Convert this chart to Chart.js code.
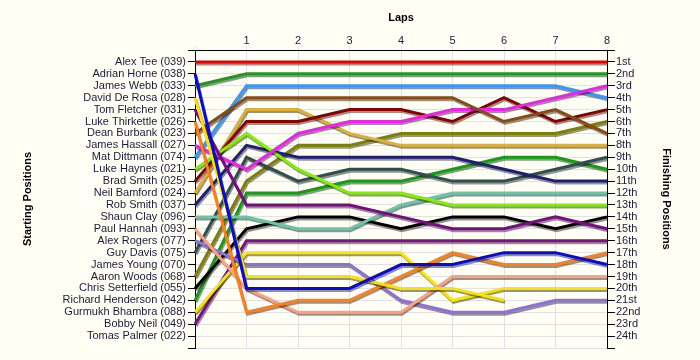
<!DOCTYPE html>
<html>
<head>
<meta charset="utf-8">
<script src="https://cdn.jsdelivr.net/npm/chart.js@4/dist/chart.umd.min.js"></script>
<style>
  html, body { margin: 0; padding: 0; background: #FFFFF5; }
  #wrap { width: 700px; height: 360px; position: relative; }
</style>
</head>
<body>
<div id="wrap"><canvas id="c"></canvas></div>
<script>
// ---- data ----
const laps = [0, 1, 2, 3, 4, 5, 6, 7, 8];
const startLabels = ['Alex Tee (039)','Adrian Horne (038)','James Webb (033)','David De Rosa (028)','Tom Fletcher (031)','Luke Thirkettle (026)','Dean Burbank (023)','James Hassall (027)','Mat Dittmann (074)','Luke Haynes (021)','Brad Smith (025)','Neil Bamford (024)','Rob Smith (037)','Shaun Clay (096)','Paul Hannah (093)','Alex Rogers (077)','Guy Davis (075)','James Young (070)','Aaron Woods (068)','Chris Setterfield (055)','Richard Henderson (042)','Gurmukh Bhambra (088)','Bobby Neil (049)','Tomas Palmer (022)'];
const finishLabels = ['1st','2nd','3rd','4th','5th','6th','7th','8th','9th','10th','11th','12th','13th','14th','15th','16th','17th','18th','19th','20th','21st','22nd','23rd','24th'];

// position at each lap (lap 0 = grid position)
const alexTee          = [1, 1, 1, 1, 1, 1, 1, 1, 1];
const adrianHorne      = [2, 20, 20, 20, 18, 18, 17, 17, 18];
const jamesWebb        = [3, 2, 2, 2, 2, 2, 2, 2, 2];
const davidDeRosa      = [4, 19, 19, 19, 20, 20, 21, null, null];
const tomFletcher      = [5, 13, 13, 13, 14, 15, 15, 14, 15];
const lukeThirkettle   = [6, 22, 21, 21, 19, 17, 18, 18, 17];
const deanBurbank      = [7, 4, 4, 4, 4, 4, 6, 5, 7];
const jamesHassall     = [8, 10, 7, 6, 6, 5, 5, 4, 3];
const matDittmann      = [9, 3, 3, 3, 3, 3, 3, 3, 4];
const lukeHaynes       = [10, 7, 10, 12, 12, 13, 13, 13, 13];
const bradSmith        = [11, 6, 6, 5, 5, 6, 4, 6, 5];
const neilBamford      = [12, 5, 5, 7, 8, 8, 8, 8, 8];
const robSmith         = [13, 8, 9, 9, 9, 9, 10, 11, 11];
const shaunClay        = [14, 14, 15, 15, 13, 12, 12, 12, 12];
const paulHannah       = [15, 20, 22, 22, 22, 19, 19, 19, 19];
const alexRogers       = [16, 18, 18, 18, 21, 22, 22, 21, 21];
const guyDavis         = [17, 9, 11, 10, 10, 11, 11, 10, 9];
const aaronWoods       = [19, 11, 8, 8, 7, 7, 7, 7, 6];
const chrisSetterfield = [20, 15, 14, 14, 15, 14, 14, 15, 14];
const richardHenderson = [21, 12, 12, 11, 11, 10, 9, 9, 10];
const gurmukhBhambra   = [22, 17, 17, 17, 17, 21, 20, 20, 20];
const bobbyNeil        = [23, 16, 16, 16, 16, 16, 16, 16, 16];

const series = [
  { name: startLabels[0],  data: alexTee,          color: '#E80000' },
  { name: startLabels[1],  data: adrianHorne,      color: '#0A0AD8' },
  { name: startLabels[2],  data: jamesWebb,        color: '#1E9A1E' },
  { name: startLabels[3],  data: davidDeRosa,      color: '#F8E400' },
  { name: startLabels[4],  data: tomFletcher,      color: '#7A0A86' },
  { name: startLabels[5],  data: lukeThirkettle,   color: '#FF8018' },
  { name: startLabels[6],  data: deanBurbank,      color: '#8A4A10' },
  { name: startLabels[7],  data: jamesHassall,     color: '#F020F0' },
  { name: startLabels[8],  data: matDittmann,      color: '#3399FF' },
  { name: startLabels[9],  data: lukeHaynes,       color: '#80F000' },
  { name: startLabels[10], data: bradSmith,        color: '#8A0000' },
  { name: startLabels[11], data: neilBamford,      color: '#E0B030' },
  { name: startLabels[12], data: robSmith,         color: '#1E1E78' },
  { name: startLabels[13], data: shaunClay,        color: '#66C8A8' },
  { name: startLabels[14], data: paulHannah,       color: '#FFA080' },
  { name: startLabels[15], data: alexRogers,       color: '#9070D8' },
  { name: startLabels[16], data: guyDavis,         color: '#2F4F4F' },
  { name: startLabels[18], data: aaronWoods,       color: '#808000' },
  { name: startLabels[19], data: chrisSetterfield, color: '#000000' },
  { name: startLabels[20], data: richardHenderson, color: '#10A010' },
  { name: startLabels[21], data: gurmukhBhambra,   color: '#F8E800' },
  { name: startLabels[22], data: bobbyNeil,        color: '#801088' }
];

// ---- chart ----
const tickFont = { family: 'Liberation Sans', size: 11, lineHeight: 1 };
const titleFont = { family: 'Liberation Sans', size: 11, weight: 'bold', lineHeight: 1.2 };
const textColor = '#1A1A3A';
const gridColor = '#E2E2E2';

const shadowPlugin = {
  id: 'lineShadow',
  beforeDatasetDraw(chart) {
    const ctx = chart.ctx;
    ctx.save();
    ctx.shadowColor = 'rgba(0,0,0,0.42)';
    ctx.shadowOffsetX = 1;
    ctx.shadowOffsetY = 2;
    ctx.shadowBlur = 0;
  },
  afterDatasetDraw(chart) { chart.ctx.restore(); }
};

const bgPlugin = {
  id: 'bg',
  beforeDraw(chart) {
    const ctx = chart.ctx;
    ctx.save();
    ctx.fillStyle = '#FFFFF5';
    ctx.fillRect(0, 0, chart.width, chart.height);
    ctx.restore();
  }
};

new Chart(document.getElementById('c'), {
  type: 'line',
  data: {
    labels: laps,
    datasets: series.map(s => ({
      label: s.name,
      data: s.data,
      borderColor: s.color,
      backgroundColor: s.color,
      borderWidth: 3,
      pointRadius: 0,
      pointHoverRadius: 0,
      tension: 0,
      spanGaps: false,
      fill: false,
      yAxisID: 'y',
      xAxisID: 'x'
    }))
  },
  options: {
    responsive: true,
    maintainAspectRatio: false,
    animation: false,
    events: [],
    layout: { padding: { left: 0, right: 0, top: 0, bottom: 12 } },
    plugins: { legend: { display: false }, tooltip: { enabled: false } },
    scales: {
      x: {
        type: 'category',
        position: 'top',
        offset: false,
        afterFit(scale) { scale.height = 50; },
        grid: { color: gridColor, tickColor: gridColor, tickLength: 4, lineWidth: 1 },
        border: { color: '#000000', width: 1 },
        ticks: {
          font: tickFont, color: textColor, padding: 0, maxRotation: 0, autoSkip: false,
          callback(v, i) { return laps[i] === 0 ? '' : String(laps[i]); }
        },
        title: { display: true, text: 'Laps', font: titleFont, color: '#000', padding: { top: 11, bottom: 0 } }
      },
      y: {
        type: 'linear',
        position: 'left',
        reverse: true,
        min: 0,
        max: 25,
        afterFit(scale) { scale.width = 195; },
        grid: { color: gridColor, tickColor: '#000000', tickLength: 7, lineWidth: 1 },
        border: { color: '#000000', width: 1 },
        ticks: {
          font: tickFont, color: textColor, padding: 2, stepSize: 1, autoSkip: false,
          callback(v) { return startLabels[v - 1] || ''; }
        },
        title: { display: true, text: 'Starting Positions', font: titleFont, color: '#000', padding: { top: 21, bottom: 0 } }
      },
      y2: {
        type: 'linear',
        position: 'right',
        reverse: true,
        min: 0,
        max: 25,
        afterFit(scale) { scale.width = 93; },
        grid: { drawOnChartArea: false, tickColor: '#000000', tickLength: 8 },
        border: { color: '#000000', width: 1 },
        ticks: {
          font: tickFont, color: textColor, padding: 1, stepSize: 1, autoSkip: false,
          callback(v) { return finishLabels[v - 1] || ''; }
        },
        title: { display: true, text: 'Finishing Positions', font: titleFont, color: '#000', padding: { top: 27, bottom: 0 } }
      }
    }
  },
  plugins: [bgPlugin, shadowPlugin]
});
</script>
</body>
</html>
